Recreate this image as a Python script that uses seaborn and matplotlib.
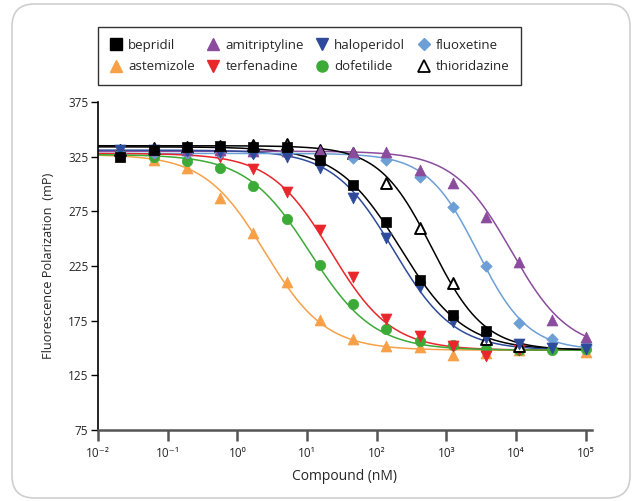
import numpy as np
import pandas as pd
import seaborn as sns
import matplotlib.pyplot as plt
from matplotlib.lines import Line2D
from matplotlib.patches import FancyBboxPatch

# Konzentrationen (nM), 3-fache Verduennungsreihe
conc = [0.0209, 0.0627, 0.188, 0.565, 1.69, 5.08, 15.2, 45.7, 137, 412, 1235, 3704, 11111, 33333, 100000]

nan = np.nan
bepridil = [325, 331, 334, 335, 334, 334, 322, 299, 265, 212, 180, 166, nan, nan, nan]
amitriptyline = [330, 331, 331, 331, 330, 330, 330, 329.5, 329, 313, 301, 270, 229, 176, 160]
haloperidol = [331, 331, 330, 329, 327, 325, 315, 287, 251, 206, 174, 159, 153.5, 150, 149]
fluoxetine = [328, 328, 328, 328, 328, 327, 326, 324, 321.5, 306, 279, 225, 173, 158, 153]
astemizole = [326, 321.5, 314.5, 287, 255, 210, 176, 158, 152, 150.5, 143.5, 145, 148, nan, 146]
terfenadine = [326, 327, 327, 325, 314, 292.5, 257.5, 215, 176.5, 161, 152, 143, 148, nan, nan]
dofetilide = [326, 325, 321, 315, 298, 268, 226, 190, 167, 156, 153, 149, 148, 148, 149]
thioridazine = [331, 333, 334, 335, 336, 337, 331, 328, 301, 260, 209, 158, 152, nan, nan]

# 4PL-Parameter der Fitkurven: oben, unten, IC50 (nM), Hill
fit_top = [334, 330, 331, 328, 327, 328, 327, 335]
fit_bottom = [148, 148, 148, 148, 148, 148, 148, 148]
fit_ic50 = [220, 8500, 175, 2800, 2.5, 22, 11, 620]
fit_hill = [0.95, 1.05, 1.0, 1.2, 1.0, 1.0, 0.95, 1.15]

names = ['bepridil', 'amitriptyline', 'haloperidol', 'fluoxetine',
         'astemizole', 'terfenadine', 'dofetilide', 'thioridazine']
values = [bepridil, amitriptyline, haloperidol, fluoxetine,
          astemizole, terfenadine, dofetilide, thioridazine]
colors = ['#000000', '#8b4c9e', '#2e4b9b', '#6d9fd6',
          '#f7a048', '#e8262b', '#3caa36', '#000000']
markers = ['s', '^', 'v', 'D', '^', 'v', 'o', '^']
sizes = [50, 62, 62, 34, 62, 62, 56, 62]

xticks = [1e-2, 1e-1, 1e0, 1e1, 1e2, 1e3, 1e4, 1e5]
xticklabels = ['10⁻²', '10⁻¹', '10⁰', '10¹', '10²', '10³', '10⁴', '10⁵']
yticks = [75, 125, 175, 225, 275, 325, 375]

sns.set_style("ticks")
plt.rcParams['font.family'] = ['Open Sans', 'DejaVu Sans']

fig = plt.figure(figsize=(6.38, 5.01), dpi=100)
ax = fig.add_axes([98 / 638, 1 - 430 / 501, (592 - 98) / 638, (430 - 102) / 501])

# Rahmen um die ganze Grafik
frame = FancyBboxPatch((12 / 638, 3 / 501), 618 / 638, 494 / 501,
                       boxstyle="round,pad=0,rounding_size=0.035",
                       mutation_aspect=638 / 501,
                       transform=fig.transFigure, facecolor='none',
                       edgecolor='#cfcfcf', linewidth=1.2)
fig.patches.append(frame)

xs = np.logspace(-2, 5, 400)
for i, name in enumerate(names):
    curve = pd.DataFrame({
        'x': xs,
        'y': fit_bottom[i] + (fit_top[i] - fit_bottom[i]) / (1 + (xs / fit_ic50[i]) ** fit_hill[i])
    })
    sns.lineplot(data=curve, x='x', y='y', color=colors[i], linewidth=1.1, ax=ax, zorder=2)

# Reihenfolge der Punkte (spaeter = oben)
draw_order = [4, 6, 5, 7, 3, 1, 2, 0]
for i in draw_order:
    pts = pd.DataFrame({'x': conc, 'y': values[i]}).dropna()
    if names[i] == 'thioridazine':
        sns.scatterplot(data=pts, x='x', y='y', marker='^', s=sizes[i],
                        facecolor='white', edgecolor='black', linewidth=1.4, ax=ax, zorder=3)
    else:
        sns.scatterplot(data=pts, x='x', y='y', marker=markers[i], s=sizes[i],
                        color=colors[i], edgecolor=colors[i], linewidth=0.5, ax=ax, zorder=3)

ax.set_xscale('log')
ax.set_xlim(1e-2, 10 ** 5.09)
ax.set_ylim(75, 375)
ax.set_xticks(xticks)
ax.set_xticklabels(xticklabels)
ax.minorticks_off()
ax.set_yticks(yticks)
ax.tick_params(axis='y', direction='out', length=5, width=1, color='black', labelsize=8.5, pad=2)
ax.tick_params(axis='x', direction='out', length=8, width=1.8, color='#555555', labelsize=8.5, pad=4)
for s in ['top', 'right']:
    ax.spines[s].set_visible(False)
ax.spines['left'].set_linewidth(1.2)
ax.spines['left'].set_color('black')
ax.spines['bottom'].set_linewidth(1.8)
ax.spines['bottom'].set_color('#555555')
ax.set_xlabel('Compound (nM)', fontsize=10, labelpad=7)
ax.set_ylabel('Fluorescence Polarization  (mP)', fontsize=9.2, labelpad=9)

handles = []
legend_order = [0, 4, 1, 5, 2, 6, 3, 7]
for i in legend_order:
    if names[i] == 'thioridazine':
        h = Line2D([], [], linestyle='none', marker='^', markersize=8,
                   markerfacecolor='white', markeredgecolor='black', markeredgewidth=1.3)
    else:
        h = Line2D([], [], linestyle='none', marker=markers[i],
                   markersize=6.5 if markers[i] == 'D' else 8,
                   markerfacecolor=colors[i], markeredgecolor=colors[i])
    handles.append(h)
leg = fig.legend(handles, [names[i] for i in legend_order], ncol=4,
                 loc='upper left', bbox_to_anchor=(98 / 638, 1 - 86 / 501, 423 / 638, 59 / 501),
                 mode='expand', frameon=True, fancybox=False, fontsize=9.5,
                 handlelength=1.0, handletextpad=0.4, borderpad=0.9,
                 labelspacing=0.65, borderaxespad=0)
leg.get_frame().set_edgecolor('black')
leg.get_frame().set_linewidth(1.0)

fig.savefig('out.png', dpi=100)
